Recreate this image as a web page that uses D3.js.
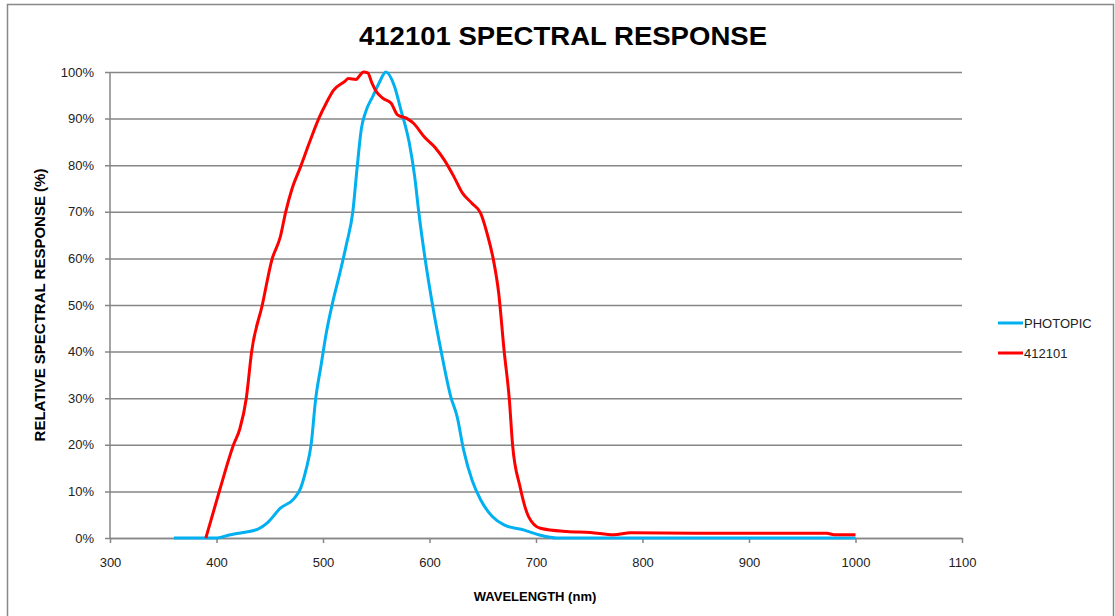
<!DOCTYPE html>
<html>
<head>
<meta charset="utf-8">
<script src="https://cdn.jsdelivr.net/npm/d3@7"></script>
<style>
  body { margin: 0; background: #fff; }
  text { font-family: "Liberation Sans", Arial, sans-serif; }
</style>
</head>
<body>
<div id="chart"></div>
<script>
// Photopic curve (wavelength nm, relative response %)
var photopicNm  = [360, 380, 401, 411, 425, 439, 448, 460, 473, 479, 484, 489, 493, 498, 503, 509, 516, 522, 528, 532, 536, 540, 547, 553, 559, 567, 573, 581, 586, 590, 596, 603, 611, 620, 626, 632, 640, 648, 659, 670, 689, 704, 720, 800, 1000];
var photopicPct = [0, 0, 0, 0.6, 1.2, 1.9, 3.3, 6.4, 8.5, 10.7, 14.6, 20.3, 29.6, 36.8, 43.9, 50.5, 57, 63, 70, 79.4, 87.8, 91.4, 94.9, 97.8, 100, 97, 92, 84.8, 77.7, 69.8, 59.7, 49.8, 40, 30.3, 26, 18.9, 12.4, 8.2, 4.6, 2.8, 1.7, 0.6, 0, 0, 0];

// 412101 sensor curve
var sensorNm  = [390, 403, 416, 422, 428, 433, 443, 452, 460, 465, 471, 479, 487, 496, 503, 510, 520, 524, 531, 534, 538, 542, 546, 550, 556, 564, 570, 579, 585, 595, 606, 614, 623, 631, 640, 648, 654, 660, 665, 670, 675, 678, 685, 693, 704, 729, 751, 773, 789, 850, 900, 973, 980, 1000];
var sensorPct = [0, 10.3, 20, 23.5, 30, 40, 50, 59.7, 64.7, 70, 75, 79.7, 84.7, 90, 93.3, 96.1, 97.9, 98.6, 98.4, 99.1, 100, 99.8, 97.6, 95.8, 94.4, 93.3, 90.8, 90, 89, 86.1, 83.6, 81.1, 77.5, 74, 71.8, 69.7, 65.4, 59.7, 52.5, 40.3, 29.6, 20, 11, 4.6, 2.1, 1.4, 1.2, 0.7, 1.1, 1, 1, 1, 0.7, 0.7];

var seriesNames  = ["PHOTOPIC", "412101"];
var seriesColors = ["#00b0f0", "#ff0000"];
var xTicks = [300, 400, 500, 600, 700, 800, 900, 1000, 1100];
var yTicks = [0, 10, 20, 30, 40, 50, 60, 70, 80, 90, 100];

var W = 1115, H = 616;
var margin = { top: 72, right: 153, bottom: 78, left: 110 };
var width = W - margin.left - margin.right;
var height = H - margin.top - margin.bottom;

var svg = d3.select("#chart").append("svg")
    .attr("width", W)
    .attr("height", H);

// outer frame
svg.append("rect")
    .attr("x", 7.5).attr("y", 4.5)
    .attr("width", W - 9).attr("height", H + 10)
    .attr("fill", "none")
    .attr("stroke", "#888")
    .attr("stroke-width", 1.5);

svg.append("text")
    .attr("x", 563).attr("y", 45)
    .attr("text-anchor", "middle")
    .attr("font-size", "26px")
    .attr("font-weight", "bold")
    .attr("textLength", 408)
    .attr("lengthAdjust", "spacingAndGlyphs")
    .text("412101 SPECTRAL RESPONSE");

var g = svg.append("g")
    .attr("transform", "translate(" + margin.left + "," + margin.top + ")");

var x = d3.scaleLinear().domain([300, 1100]).range([0, width]);
var y = d3.scaleLinear().domain([0, 100]).range([height, 0]);

// gridlines + y axis
var yAxis = g.append("g")
    .call(d3.axisLeft(y).tickValues(yTicks).tickSize(-width).tickSizeOuter(0)
        .tickFormat(function (d) { return d + "%"; }));
yAxis.select(".domain").remove();
yAxis.selectAll(".tick line")
    .attr("x1", -5)
    .attr("stroke", "#868686")
    .attr("stroke-width", 1.5);
yAxis.selectAll(".tick text")
    .attr("x", -16)
    .attr("font-size", "13px")
    .attr("fill", "#222");

g.append("line")
    .attr("x1", 0).attr("x2", 0)
    .attr("y1", 0).attr("y2", height)
    .attr("stroke", "#868686")
    .attr("stroke-width", 1.5);

var xAxis = g.append("g")
    .attr("transform", "translate(0," + height + ")")
    .call(d3.axisBottom(x).tickValues(xTicks).tickSize(5).tickSizeOuter(0)
        .tickFormat(d3.format("d")));
xAxis.select(".domain").attr("stroke", "#868686").attr("stroke-width", 1.5);
xAxis.selectAll(".tick line").attr("stroke", "#868686").attr("stroke-width", 1.5);
xAxis.selectAll(".tick text")
    .attr("y", 20)
    .attr("font-size", "13px")
    .attr("fill", "#222");

// axis titles
svg.append("text")
    .attr("x", 535).attr("y", 601)
    .attr("text-anchor", "middle")
    .attr("font-size", "13px")
    .attr("font-weight", "bold")
    .text("WAVELENGTH (nm)");

svg.append("text")
    .attr("transform", "translate(45,305) rotate(-90)")
    .attr("text-anchor", "middle")
    .attr("font-size", "15px")
    .attr("font-weight", "bold")
    .text("RELATIVE SPECTRAL RESPONSE (%)");

// curves
var line = d3.line()
    .x(function (d) { return x(d[0]); })
    .y(function (d) { return y(d[1]); })
    .curve(d3.curveMonotoneX);

var series = [
    d3.zip(photopicNm, photopicPct),
    d3.zip(sensorNm, sensorPct)
];

series.forEach(function (s, i) {
    g.append("path")
        .datum(s)
        .attr("fill", "none")
        .attr("stroke", seriesColors[i])
        .attr("stroke-width", 3)
        .attr("stroke-linejoin", "round")
        .attr("d", line);
});

// legend
var legend = svg.append("g")
    .attr("transform", "translate(998,323)");

seriesNames.forEach(function (name, i) {
    var row = legend.append("g")
        .attr("transform", "translate(0," + i * 30 + ")");
    row.append("line")
        .attr("x1", 0).attr("x2", 25)
        .attr("stroke", seriesColors[i])
        .attr("stroke-width", 3);
    row.append("text")
        .attr("x", 26).attr("y", 5)
        .attr("font-size", "13px")
        .attr("fill", "#222")
        .text(name);
});
</script>
</body>
</html>
